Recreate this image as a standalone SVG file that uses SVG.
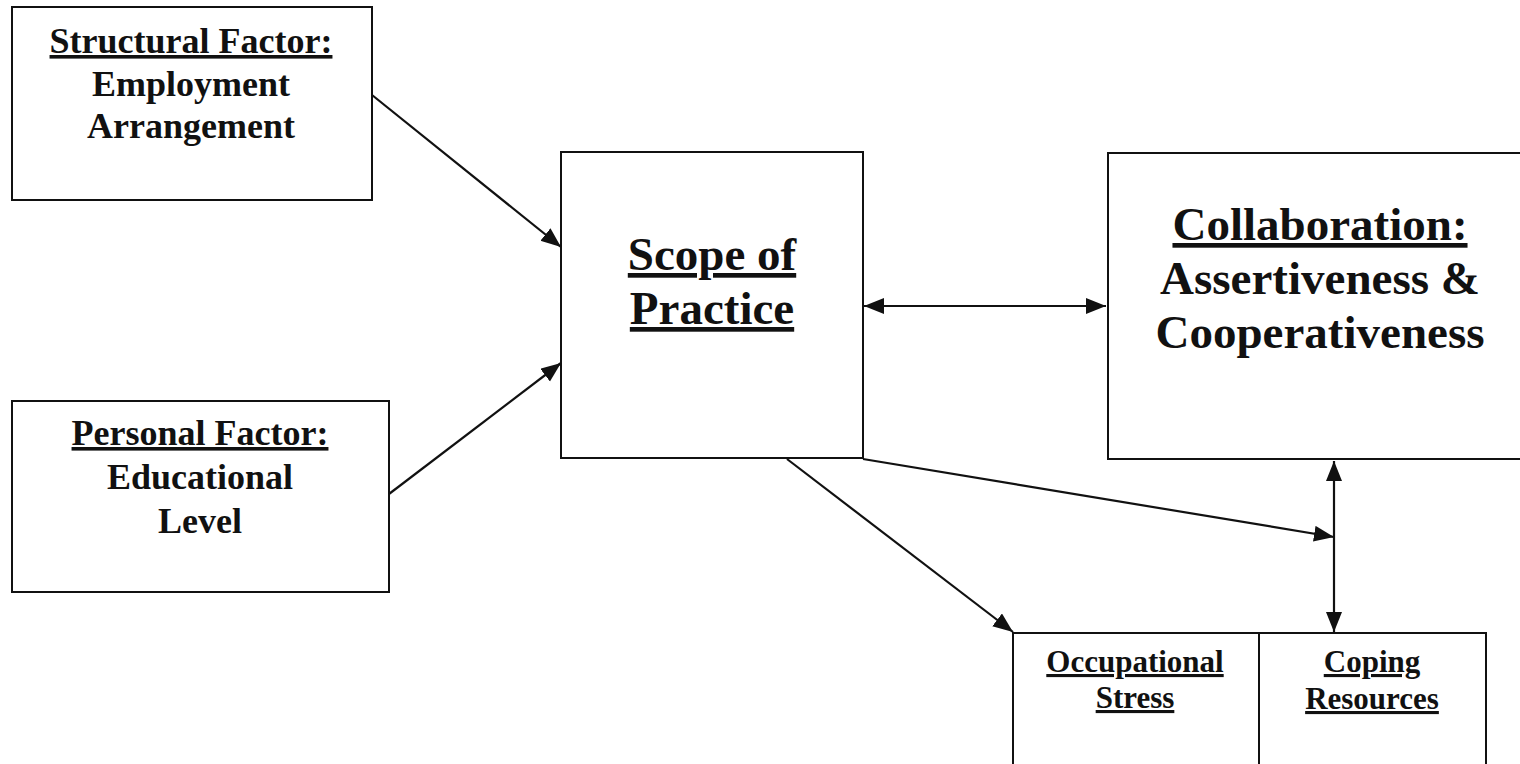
<svg xmlns="http://www.w3.org/2000/svg" width="1520" height="764" viewBox="0 0 1520 764">
<style>
.box{fill:none;stroke:#111;stroke-width:2}
.t{font-family:"Liberation Serif","Times New Roman",serif;font-weight:bold;fill:#111;text-anchor:middle}
.u{text-decoration:underline}
.c{stroke:#111;stroke-width:2.2;fill:none}
</style>
<defs>
<marker id="ah" markerUnits="userSpaceOnUse" markerWidth="22" markerHeight="18" refX="20" refY="8" orient="auto-start-reverse" viewBox="0 0 22 18">
<path d="M0,0 L20,8 L0,16 z" fill="#111"/>
</marker>
</defs>
<rect width="1520" height="764" fill="#fff"/>
<g id="structural">
<rect class="box" x="12" y="7" width="360" height="193"/>
<text class="t u" x="191" y="53" font-size="36">Structural Factor:</text>
<text class="t" x="191" y="96" font-size="36">Employment</text>
<text class="t" x="191" y="138" font-size="36">Arrangement</text>
</g>
<g id="personal">
<rect class="box" x="12" y="401" width="377" height="191"/>
<text class="t u" x="200" y="445" font-size="36">Personal Factor:</text>
<text class="t" x="200" y="489" font-size="36">Educational</text>
<text class="t" x="200" y="533" font-size="36">Level</text>
</g>
<g id="scope">
<rect class="box" x="561" y="152" width="302" height="306"/>
<text class="t u" x="712" y="270" font-size="47">Scope of</text>
<text class="t u" x="712" y="324" font-size="47">Practice</text>
</g>
<g id="collaboration">
<rect class="box" x="1108" y="153" width="420" height="306"/>
<text class="t u" x="1320" y="240" font-size="47">Collaboration:</text>
<text class="t" x="1320" y="294" font-size="47">Assertiveness &amp;</text>
<text class="t" x="1320" y="348" font-size="47">Cooperativeness</text>
</g>
<g id="stress-coping">
<rect class="box" x="1013" y="633" width="473" height="200"/>
<line class="box" x1="1259" y1="633" x2="1259" y2="764"/>
<text class="t u" x="1135" y="672" font-size="31">Occupational</text>
<text class="t u" x="1135" y="708" font-size="31">Stress</text>
<text class="t u" x="1372" y="672" font-size="31">Coping</text>
<text class="t u" x="1372" y="709" font-size="31">Resources</text>
</g>
<g id="connectors">
<line class="c" x1="372" y1="95" x2="561" y2="247" marker-end="url(#ah)"/>
<line class="c" x1="389" y1="494" x2="561" y2="363" marker-end="url(#ah)"/>
<line class="c" x1="864" y1="306" x2="1106" y2="306" marker-start="url(#ah)" marker-end="url(#ah)"/>
<line class="c" x1="787" y1="459" x2="1013" y2="632" marker-end="url(#ah)"/>
<line class="c" x1="863" y1="459" x2="1334" y2="537" marker-end="url(#ah)"/>
<line class="c" x1="1334" y1="461" x2="1334" y2="632" marker-start="url(#ah)" marker-end="url(#ah)"/>
</g>
</svg>
